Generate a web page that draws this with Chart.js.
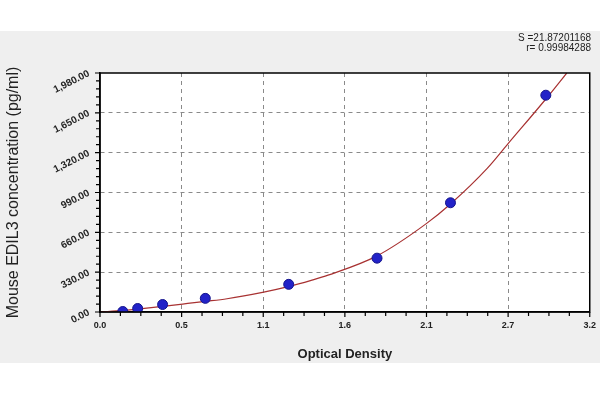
<!DOCTYPE html>
<html>
<head>
<meta charset="utf-8">
<script src="https://cdn.jsdelivr.net/npm/chart.js@4.4.0/dist/chart.umd.min.js"></script>
<style>
html, body { margin: 0; padding: 0; background: #fff; }
</style>
</head>
<body>
<canvas id="myChart" width="600" height="400"></canvas>
<script>
// Standards (OD, pg/ml)
var odValues = [0.149, 0.246, 0.409, 0.688, 1.233, 1.81, 2.29, 2.913];
var concValues = [4, 29, 62, 113, 229, 446, 905, 1796];
// Fitted curve
var fitOd = [0, 0.15, 0.29, 0.54, 0.69, 0.83, 1.07, 1.23, 1.38, 1.49, 1.81, 2.13, 2.29, 2.53, 2.66, 2.92, 3.05];
var fitConc = [0, 13, 30, 66, 88, 110, 165, 210, 262, 305, 465, 730, 895, 1190, 1385, 1775, 1980];
// Fit statistics printed top right
var statLines = ['S =21.87201168', 'r= 0.99984288'];

var xMax = 3.2;
var yMax = 1980;

function toPoints(xs, ys) {
    var pts = [];
    for (var i = 0; i < xs.length; i++) {
        pts.push({ x: xs[i], y: ys[i] });
    }
    return pts;
}

var backdrop = {
    id: 'backdrop',
    beforeDraw: function (chart) {
        var c = chart.ctx;
        var a = chart.chartArea;
        c.save();
        c.fillStyle = '#ffffff';
        c.fillRect(0, 0, chart.width, chart.height);
        c.fillStyle = '#efefef';
        c.fillRect(0, 31, chart.width, 332);
        c.fillStyle = '#ffffff';
        c.fillRect(a.left, a.top, a.right - a.left, a.bottom - a.top);
        c.restore();
    },
    afterDraw: function (chart) {
        var c = chart.ctx;
        var a = chart.chartArea;
        var xs = chart.scales.x;
        var ys = chart.scales.y;
        c.save();
        // tick marks, major and minor
        c.strokeStyle = '#000';
        c.lineWidth = 1.2;
        c.beginPath();
        xs.ticks.forEach(function (t, i) {
            var px = xs.getPixelForValue(t.value);
            c.moveTo(px, a.bottom);
            c.lineTo(px, a.bottom + (i % 4 === 0 ? 5 : 4));
        });
        ys.ticks.forEach(function (t, i) {
            var py = ys.getPixelForValue(t.value);
            c.moveTo(a.left, py);
            c.lineTo(a.left - (i % 5 === 0 ? 5 : 4), py);
        });
        c.stroke();
        c.lineWidth = 1.5;
        c.strokeRect(a.left, a.top, a.right - a.left, a.bottom - a.top);
        c.fillStyle = '#222';
        c.font = '10px "Liberation Sans", Arial, sans-serif';
        c.textAlign = 'right';
        c.textBaseline = 'middle';
        c.fillText(statLines[0], 591, 38);
        c.fillText(statLines[1], 591, 48);
        c.restore();
    }
};

var ctx = document.getElementById('myChart');

var myChart = new Chart(ctx, {
    type: 'scatter',
    data: {
        datasets: [
            {
                label: 'Standards',
                data: toPoints(odValues, concValues),
                pointStyle: 'circle',
                pointRadius: 5,
                backgroundColor: '#2222c8',
                borderColor: '#16168c',
                borderWidth: 1,
                showLine: false
            },
            {
                label: 'Fit',
                data: toPoints(fitOd, fitConc),
                showLine: true,
                pointRadius: 0,
                borderColor: '#a83232',
                borderWidth: 1.2,
                cubicInterpolationMode: 'monotone',
                fill: false
            }
        ]
    },
    options: {
        responsive: false,
        animation: false,
        layout: { padding: { top: 73, right: 8, left: 0, bottom: 34 } },
        plugins: {
            legend: { display: false },
            tooltip: { enabled: false }
        },
        scales: {
            x: {
                type: 'linear',
                min: 0,
                max: xMax,
                afterFit: function (scale) { scale.height = 54; },
                ticks: {
                    stepSize: xMax / 24,
                    autoSkip: false,
                    maxRotation: 0,
                    padding: 4,
                    color: '#222',
                    font: { family: '"Liberation Sans", Arial', size: 9, weight: 'bold' },
                    callback: function (value, index) {
                        return index % 4 === 0 ? Number(value).toFixed(1) : '';
                    }
                },
                grid: {
                    color: function (c) {
                        var n = c.chart.scales.x.ticks.length - 1;
                        if (c.index % 4 !== 0 || c.index === 0 || c.index === n) return 'rgba(0,0,0,0)';
                        return '#8a8a8a';
                    },
                    lineWidth: 1,
                    tickColor: 'rgba(0,0,0,0)',
                    tickLength: 4
                },
                border: { color: '#000', width: 1.5, dash: [4, 4] },
                title: {
                    display: true,
                    text: 'Optical Density',
                    color: '#222',
                    font: { family: '"Liberation Sans", Arial', size: 13, weight: 'bold' }
                }
            },
            y: {
                type: 'linear',
                min: 0,
                max: yMax,
                afterFit: function (scale) { scale.width = 100; },
                ticks: {
                    stepSize: yMax / 30,
                    autoSkip: false,
                    minRotation: 27,
                    maxRotation: 27,
                    padding: 7,
                    color: '#222',
                    font: { family: '"Liberation Sans", Arial', size: 10, weight: 'bold' },
                    callback: function (value, index) {
                        if (index % 5 !== 0) return '';
                        return Number(value).toLocaleString('en-US', { minimumFractionDigits: 2, maximumFractionDigits: 2 });
                    }
                },
                grid: {
                    color: function (c) {
                        var n = c.chart.scales.y.ticks.length - 1;
                        if (c.index % 5 !== 0 || c.index === 0 || c.index === n) return 'rgba(0,0,0,0)';
                        return '#8a8a8a';
                    },
                    lineWidth: 1,
                    tickColor: 'rgba(0,0,0,0)',
                    tickLength: 4
                },
                border: { color: '#000', width: 1.5, dash: [4, 4] },
                title: {
                    display: true,
                    text: 'Mouse EDIL3 concentration (pg/ml)',
                    color: '#222',
                    padding: { top: 4, bottom: 4 },
                    font: { family: '"Liberation Sans", Arial', size: 16 }
                }
            }
        }
    },
    plugins: [backdrop]
});
</script>
</body>
</html>
